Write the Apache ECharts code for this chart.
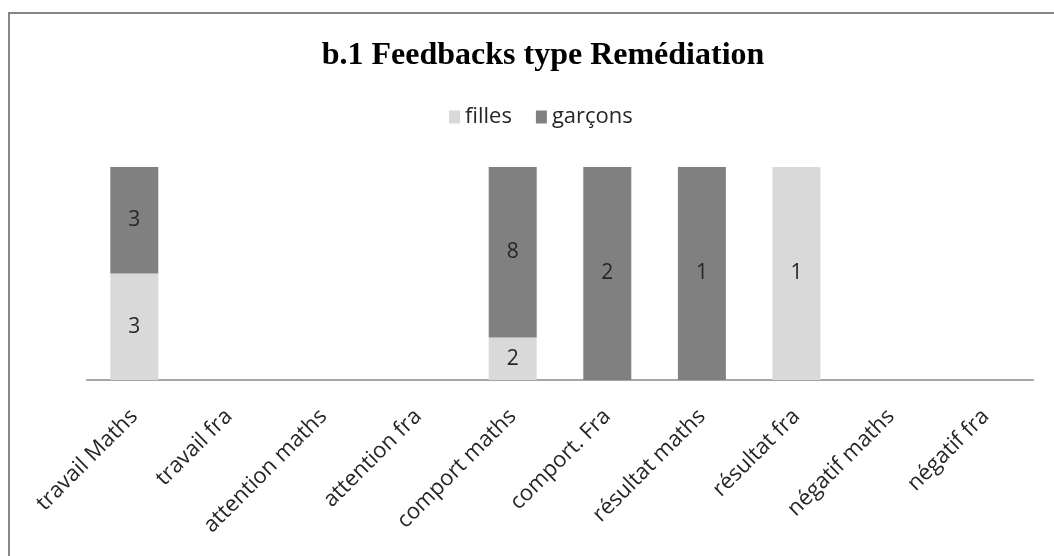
<!DOCTYPE html>
<html>
<head>
<meta charset="utf-8">
<script src="https://cdn.jsdelivr.net/npm/echarts@6/dist/echarts.min.js"></script>
<style>
  html, body { margin: 0; padding: 0; background: #fff; }
  #chart { width: 1054px; height: 556px; }
</style>
</head>
<body>
<div id="chart"></div>
<script>
// categories and raw counts
const categories = ['travail Maths', 'travail fra', 'attention maths', 'attention fra', 'comport maths',
    'comport. Fra', 'résultat maths', 'résultat fra', 'négatif maths', 'négatif fra']
const filles = [3, 0, 0, 0, 2, 0, 0, 1, 0, 0]
const garcons = [3, 0, 0, 0, 8, 2, 1, 0, 0, 0]

// 100% stacked: heights are shares of each column total
const share = (arr, i) => {
    const total = filles[i] + garcons[i]
    return total ? arr[i] / total * 100 : 0
}

const makeSeries = (name, arr, color) => ({
    name,
    type: 'bar',
    stack: 'total',
    barWidth: 48,
    itemStyle: {color},
    label: {
        show: true,
        position: 'inside',
        color: '#262626',
        fontFamily: 'Open Sans',
        fontSize: 21,
        formatter: p => arr[p.dataIndex] ? String(arr[p.dataIndex]) : ''
    },
    data: arr.map((v, i) => share(arr, i))
})

const chart = echarts.init(document.getElementById('chart'))
chart.setOption({
    animation: false,
    graphic: [{
        type: 'rect',
        shape: {x: 9, y: 13, width: 1200, height: 700},
        style: {fill: 'none', stroke: '#868686', lineWidth: 2}
    }],
    title: {
        text: 'b.1 Feedbacks type Remédiation',
        left: 538,
        textAlign: 'center',
        top: 35,
        textStyle: {fontFamily: 'Liberation Serif', fontWeight: 'bold', fontSize: 32, color: '#000'}
    },
    legend: {
        top: 101,
        left: 444,
        itemWidth: 11,
        itemHeight: 13,
        itemGap: 24,
        icon: 'rect',
        textStyle: {fontFamily: 'Open Sans', fontSize: 22, color: '#262626'},
        data: ['filles', 'garçons']
    },
    grid: {left: 87, right: 21, top: 167, bottom: 176, containLabel: false},
    xAxis: {
        type: 'category',
        data: categories,
        axisTick: {show: false},
        axisLine: {lineStyle: {color: '#a6a6a6', width: 2}},
        axisLabel: {
            rotate: 45,
            interval: 0,
            margin: 33,
            color: '#262626',
            fontFamily: 'Open Sans',
            fontSize: 22
        }
    },
    yAxis: {
        type: 'value',
        min: 0,
        max: 100,
        show: false,
        splitLine: {show: false}
    },
    series: [
        makeSeries('filles', filles, '#d9d9d9'),
        makeSeries('garçons', garcons, '#808080')
    ]
})
</script>
</body>
</html>
